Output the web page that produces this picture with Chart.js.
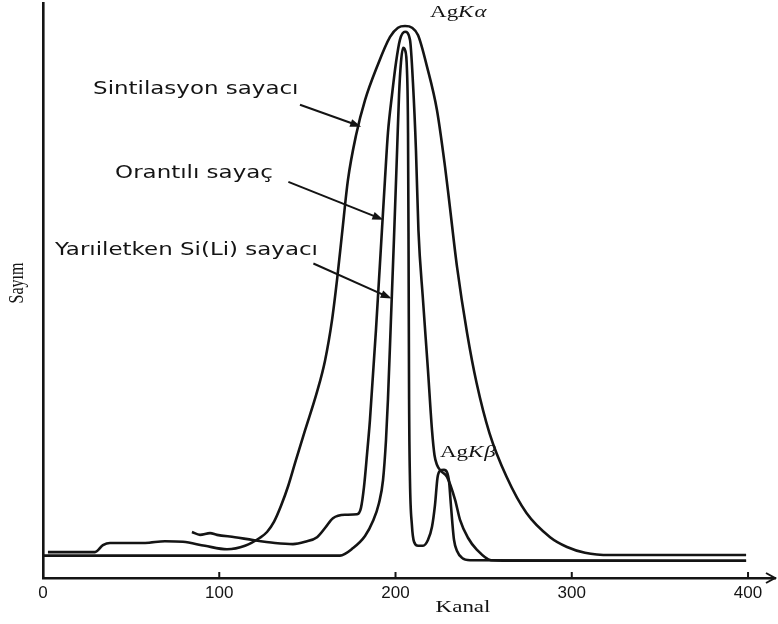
<!DOCTYPE html>
<html>
<head>
<meta charset="utf-8">
<script src="https://cdn.jsdelivr.net/npm/chart.js@4/dist/chart.umd.min.js"></script>
<style>
  html, body { margin: 0; padding: 0; background: #ffffff; }
  #wrap { width: 778px; height: 624px; }
</style>
</head>
<body>
<div id="wrap"><canvas id="spec" width="778" height="624"></canvas></div>
<script>
// Ag K spectra measured with three detector types (channel vs. counts)
const xTicks = [0, 100, 200, 300, 400];

// Scintillation counter
const scintX = [2.8, 29.5, 34.0, 38.0, 57.9, 69.2, 79.4, 91.9, 104.4, 114.6,
  123.1, 127.1, 131.1, 135.1, 139.1, 143.1, 148.7, 155.5, 160.0, 164.0,
  166.8, 169.6, 173.0, 177.6, 182.7, 189.5, 196.9, 201.4, 205.4, 209.4,
  212.8, 217.9, 223.5, 228.1, 230.4, 234.9, 240.6, 246.0, 253.3, 263.0,
  274.3, 287.7, 297.3, 307.5, 321.7, 398.9];
const scintY = [4.5, 4.5, 5.7, 6.1, 6.1, 6.4, 6.3, 5.6, 5.0, 5.6,
  7.0, 8.0, 9.8, 12.6, 16.0, 20.1, 25.7, 32.4, 37.8, 44.9,
  51.8, 59.7, 69.2, 77.0, 83.1, 88.9, 94.1, 95.7, 96.0, 95.7,
  94.4, 88.9, 81.4, 71.5, 65.7, 54.1, 42.6, 33.9, 25.2, 17.6,
  11.3, 7.1, 5.4, 4.4, 4.0, 4.0];

// Proportional counter
const propX = [84.5, 89.1, 94.8, 98.7, 108.9, 119.1, 131.6, 141.8, 148.7, 155.5,
  160.0, 164.5, 171.3, 178.2, 180.4, 182.1, 183.8, 185.5, 188.9, 192.3,
  194.0, 195.7, 198.0, 200.3, 202.5, 205.4, 208.2, 209.9, 211.6, 213.0,
  215.6, 218.4, 220.7, 222.1, 223.5, 225.8, 229.2, 233.8, 236.6, 241.1,
  246.2, 254.2, 270.6, 398.9];
const propY = [8.0, 7.5, 7.8, 7.5, 7.1, 6.6, 6.1, 5.9, 6.3, 7.1,
  8.7, 10.4, 11.0, 11.1, 12.2, 15.8, 21.4, 27.5, 43.1, 60.5,
  69.2, 77.4, 84.0, 89.7, 93.6, 95.0, 93.6, 86.1, 74.4, 60.5,
  48.3, 36.2, 25.7, 21.4, 19.7, 18.6, 17.6, 13.6, 10.1, 7.0,
  4.9, 3.1, 3.0, 3.0];

// Si(Li) semiconductor detector
const siliX = [0, 168.5, 175.9, 182.7, 187.2, 190.6, 192.9, 194.6, 195.7, 197.4,
  199.1, 200.9, 202.0, 203.1, 204.3, 205.4, 206.5, 207.1, 207.4, 207.7,
  208.2, 209.3, 210.5, 212.8, 215.6, 218.4, 220.7, 222.4, 223.8, 225.2,
  227.5, 229.2, 230.4, 231.2, 232.1, 233.2, 234.9, 237.7, 242.3, 398.9];
const siliY = [3.9, 3.9, 5.2, 7.3, 9.9, 13.0, 17.0, 24.0, 31.0, 44.9,
  58.8, 74.4, 84.0, 89.7, 92.2, 91.8, 88.3, 77.4, 57.0, 31.0,
  17.0, 9.2, 6.3, 5.6, 5.6, 6.6, 8.9, 12.7, 17.4, 18.6,
  18.8, 18.4, 16.7, 13.6, 10.1, 6.6, 4.7, 3.5, 3.1, 3.0];

// Callout labels with arrows (data units: channel, counts)
const calloutText = ['Sintilasyon sayacı', 'Orantılı sayaç', 'Yarıiletken Si(Li) sayacı'];
const calloutX = [28.4, 40.9, 6.8];
const calloutY = [84.9, 70.4, 57.0];
const arrowFromX = [145.8, 139.2, 153.4];
const arrowFromY = [82.3, 68.9, 54.7];
const arrowToX = [180.5, 193.1, 197.8];
const arrowToY = [78.5, 62.3, 48.6];

// Peak labels
const peakLabels = [['Ag', 'K', 'α'], ['Ag', 'K', 'β']];
const peakX = [219.6, 225.2];
const peakY = [98.3, 21.9];

const xTitle = 'Kanal';
const xTitlePos = 238.3;
const yTitle = 'Sayım';
const yTitlePos = 51.3;

const INK = '#141414';
const STRETCH = 1.35;

function pts(xs, ys) { return xs.map((x, i) => ({ x: x, y: ys[i] })); }

function line(data) {
  return {
    data: data,
    borderColor: INK,
    borderWidth: 2.6,
    pointRadius: 0,
    fill: false,
    cubicInterpolationMode: 'monotone',
    clip: false
  };
}

function wideText(ctx, txt, x, y, font, align) {
  ctx.save();
  ctx.translate(x, y);
  ctx.scale(STRETCH, 1);
  ctx.font = font;
  ctx.textAlign = align || 'left';
  ctx.textBaseline = 'middle';
  ctx.fillText(txt, 0, 0);
  ctx.restore();
}

function arrow(ctx, x0, y0, x1, y1) {
  const a = Math.atan2(y1 - y0, x1 - x0);
  const L = 11, W = 4;
  ctx.beginPath();
  ctx.moveTo(x0, y0);
  ctx.lineTo(x1 - L * 0.7 * Math.cos(a), y1 - L * 0.7 * Math.sin(a));
  ctx.stroke();
  ctx.beginPath();
  ctx.moveTo(x1, y1);
  ctx.lineTo(x1 - L * Math.cos(a) + W * Math.sin(a), y1 - L * Math.sin(a) - W * Math.cos(a));
  ctx.lineTo(x1 - L * Math.cos(a) - W * Math.sin(a), y1 - L * Math.sin(a) + W * Math.cos(a));
  ctx.closePath();
  ctx.fill();
}

const decorations = {
  id: 'decorations',
  afterDraw(chart) {
    const ctx = chart.ctx;
    const xs = chart.scales.x, ys = chart.scales.y;
    const area = chart.chartArea;
    ctx.save();
    ctx.fillStyle = INK;
    ctx.strokeStyle = INK;

    // tick marks pointing up from the axis
    ctx.lineWidth = 2;
    xTicks.forEach(v => {
      if (v === 0) return;
      const px = xs.getPixelForValue(v);
      ctx.beginPath();
      ctx.moveTo(px, area.bottom);
      ctx.lineTo(px, area.bottom - 6);
      ctx.stroke();
    });

    // arrowhead on the channel axis
    ctx.lineWidth = 2;
    ctx.beginPath();
    ctx.moveTo(area.right - 9, area.bottom - 5);
    ctx.lineTo(area.right, area.bottom);
    ctx.lineTo(area.right - 9, area.bottom + 5);
    ctx.stroke();

    // callouts
    ctx.lineWidth = 2;
    calloutText.forEach((t, i) => {
      wideText(ctx, t, xs.getPixelForValue(calloutX[i]), ys.getPixelForValue(calloutY[i]),
        '17px "DejaVu Sans", Verdana, sans-serif', 'left');
      arrow(ctx,
        xs.getPixelForValue(arrowFromX[i]), ys.getPixelForValue(arrowFromY[i]),
        xs.getPixelForValue(arrowToX[i]), ys.getPixelForValue(arrowToY[i]));
    });

    // peak labels: regular element symbol, italic line name
    peakLabels.forEach((parts, i) => {
      let x = xs.getPixelForValue(peakX[i]);
      const y = ys.getPixelForValue(peakY[i]);
      const fonts = ['17px "Liberation Serif", serif', 'italic 17px "Liberation Serif", serif', 'italic 17px "Liberation Serif", serif'];
      parts.forEach((p, j) => {
        ctx.font = fonts[j];
        wideText(ctx, p, x, y, fonts[j], 'left');
        x += ctx.measureText(p).width * STRETCH + (j === 1 ? 1 : 0);
      });
    });

    // axis titles
    wideText(ctx, xTitle, xs.getPixelForValue(xTitlePos), area.bottom + 30,
      '17px "Liberation Serif", serif', 'center');

    ctx.save();
    ctx.translate(area.left - 26, ys.getPixelForValue(yTitlePos));
    ctx.rotate(-Math.PI / 2);
    ctx.scale(1, STRETCH);
    ctx.font = '16px "Liberation Serif", serif';
    ctx.textAlign = 'center';
    ctx.textBaseline = 'middle';
    ctx.fillText(yTitle, 0, 0);
    ctx.restore();

    ctx.restore();
  }
};

new Chart(document.getElementById('spec'), {
  type: 'line',
  data: {
    datasets: [
      line(pts(scintX, scintY)),
      line(pts(propX, propY)),
      line(pts(siliX, siliY))
    ]
  },
  options: {
    responsive: false,
    animation: false,
    devicePixelRatio: 1,
    layout: { padding: { top: 3, right: 3, left: 0, bottom: 0 } },
    plugins: { legend: { display: false }, tooltip: { enabled: false } },
    scales: {
      x: {
        type: 'linear',
        min: 0,
        max: 415.3,
        afterFit(scale) { scale.height = 46; },
        afterBuildTicks(scale) { scale.ticks = xTicks.map(v => ({ value: v })); },
        grid: { display: false, drawTicks: false },
        border: { display: true, color: INK, width: 2.6 },
        ticks: {
          color: INK,
          font: { family: '"Liberation Sans", Arial, sans-serif', size: 17 },
          padding: 5,
          maxRotation: 0,
          autoSkip: false
        }
      },
      y: {
        type: 'linear',
        min: 0,
        max: 100,
        afterFit(scale) { scale.width = 43; },
        grid: { display: false },
        border: { display: true, color: INK, width: 2.6 },
        ticks: { display: false }
      }
    }
  },
  plugins: [decorations]
});
</script>
</body>
</html>
